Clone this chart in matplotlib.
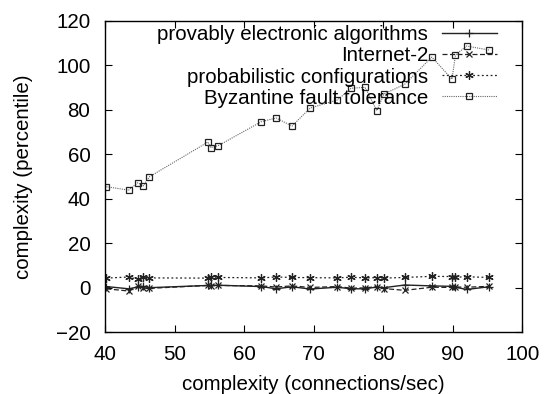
import numpy as np
import matplotlib
matplotlib.use("Agg")
import matplotlib.pyplot as plt

plt.rcParams['font.family'] = ['Liberation Sans', 'DejaVu Sans']

# shared x values (connections/sec)
x = [40.2, 43.4, 44.7, 45.5, 46.4, 54.8, 55.2, 56.3, 62.5, 64.6, 66.9, 69.5,
     73.4, 75.4, 77.4, 79.1, 80.1, 83.1, 87.0, 89.9, 90.4, 92.0, 95.2]

provably = [0.5, -0.5, 0.3, 0.6, 0.0, 1.0, 1.0, 1.1, 0.5, -0.5, 0.4, -0.6,
            0.2, -0.5, -0.5, 0.3, 0.0, 1.2, 0.8, 0.6, 0.2, -0.8, 0.4]
internet2 = [-0.5, -1.5, 0.6, -0.2, -0.3, 1.0, 0.8, 1.0, 0.8, 0.3, 0.8, 0.1,
             0.5, -0.2, -0.1, 0.5, -0.4, -1.2, 0.2, 0.1, 0.3, 0.2, 0.6]
probabilistic = [4.3, 4.8, 3.8, 4.6, 4.4, 4.3, 4.9, 4.6, 4.4, 4.8, 4.6, 4.5,
                 4.4, 4.7, 4.4, 4.5, 4.3, 4.6, 5.1, 5.0, 4.7, 4.9, 4.6]
byzantine = [45.4, 43.9, 47.2, 45.8, 49.9, 65.5, 63.0, 63.9, 74.7, 76.3, 72.7,
             80.8, 84.4, 89.7, 90.1, 79.6, 87.1, 91.5, 103.7, 93.8, 104.7,
             108.7, 106.9]

fs = 14.8

fig = plt.figure(figsize=(5.44, 3.94), dpi=100)
ax = fig.add_axes([0.193, 0.157, 0.767, 0.79])

ax.plot(x, provably, color='#222222', lw=1.0, ls='-', marker='+', ms=6,
        mew=0.9, label='provably electronic algorithms')
ax.plot(x, internet2, color='#222222', lw=0.9, ls=(0, (4, 2)), marker='x', ms=5,
        mew=0.9, label='Internet-2')
ax.plot(x, probabilistic, color='#222222', lw=0.9, ls=(0, (1.5, 2)), marker=(6, 2, 0),
        ms=6, mew=0.9, label='probabilistic configurations')
ax.plot(x, byzantine, color='#666666', lw=0.8, ls=(0, (1, 1)), marker='s', ms=5,
        mfc='none', mec='#222222', mew=0.9, label='Byzantine fault tolerance')

ax.set_xlim(40, 100)
ax.set_ylim(-20, 120)
ax.set_xticks(np.arange(40, 101, 10))
ax.set_yticks(np.arange(-20, 121, 20))
ax.tick_params(direction='in', top=True, right=True, labelsize=fs, length=5)
ax.tick_params(axis='y', pad=10.5)
ax.tick_params(axis='x', pad=9)
for s in ax.spines.values():
    s.set_linewidth(1.0)

ax.set_xlabel('complexity (connections/sec)', fontsize=fs, labelpad=8)
ax.set_ylabel('complexity (percentile)', fontsize=fs, labelpad=16)

ax.legend(loc='upper right', bbox_to_anchor=(0.940, 0.9855), frameon=False,
          markerfirst=False, numpoints=1, fontsize=fs, handlelength=2.7,
          labelspacing=0.1, borderaxespad=0, borderpad=0, handletextpad=0.65)

fig.savefig('out.png', dpi=100)
